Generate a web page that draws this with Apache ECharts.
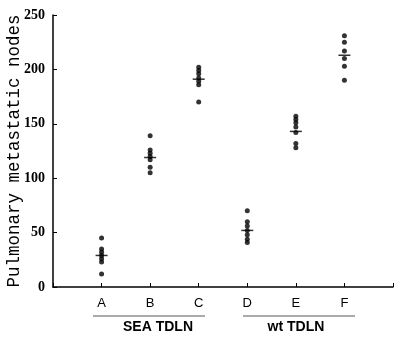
<!DOCTYPE html>
<html><head><meta charset="utf-8">
<script src="https://cdn.jsdelivr.net/npm/echarts@6/dist/echarts.min.js"></script>
<style>html,body{margin:0;padding:0;background:#fff}#c{width:398px;height:344px}</style>
</head><body><div id="c"></div>
<script>
const categories = ['A','B','C','D','E','F'];
const groupA = [45, 35, 32, 29, 26, 23, 12];
const groupB = [139, 126, 123, 120, 117, 110, 105];
const groupC = [202, 199, 196, 192, 189, 186, 170];
const groupD = [70, 60, 56, 52, 48, 44, 41];
const groupE = [157, 154, 151, 147, 142, 132, 128];
const groupF = [231, 225, 217, 210, 203, 190];
const means = [29, 119, 191, 52, 143, 213];
const groupLabels = ['SEA TDLN', 'wt TDLN'];
const yTicks = [0, 50, 100, 150, 200, 250];

const groups = [groupA, groupB, groupC, groupD, groupE, groupF];
const pts = [];
groups.forEach((g, i) => g.forEach(v => pts.push([i + 1, v])));
const meanPts = means.map((v, i) => [i + 1, v]);

const chart = echarts.init(document.getElementById('c'));
chart.setOption({
  animation: false,
  grid: {left: 53, right: 5, top: 15, bottom: 57, containLabel: false, outerBoundsMode: 'none'},
  xAxis: {
    type: 'value', min: 0, max: 7, interval: 1,
    axisLine: {lineStyle: {color: '#000', width: 1.5}},
    axisTick: {inside: true, length: 4, lineStyle: {color: '#000'}},
    splitLine: {show: false},
    axisLabel: {
      margin: 10, color: '#000', fontFamily: 'Liberation Sans', fontSize: 13,
      formatter: v => (v >= 1 && v <= 6) ? categories[v - 1] : ''
    }
  },
  yAxis: {
    type: 'value', min: 0, max: 250, interval: 50,
    name: 'Pulmonary metastatic nodes', nameLocation: 'middle', nameGap: 30, nameMoveOverlap: false,
    nameTextStyle: {fontFamily: 'Liberation Mono', fontSize: 17.5, color: '#000'},
    axisLine: {show: true, lineStyle: {color: '#000', width: 1.5}},
    axisTick: {show: true, inside: true, length: 4, lineStyle: {color: '#000'}},
    splitLine: {show: false},
    axisLabel: {margin: 8, color: '#000', fontFamily: 'Liberation Serif', fontSize: 14, fontWeight: 'bold',
      formatter: v => yTicks.indexOf(v) >= 0 ? String(v) : ''}
  },
  series: [
    {type: 'scatter', data: pts, symbol: 'circle', symbolSize: 5,
     itemStyle: {color: '#000'}},
    {type: 'scatter', data: meanPts, symbol: 'rect', symbolSize: [12, 1.5],
     itemStyle: {color: '#000'}}
  ],
  graphic: [
    {type: 'line', shape: {x1: 93, y1: 316, x2: 205, y2: 316}, style: {stroke: '#555', lineWidth: 1}},
    {type: 'line', shape: {x1: 243, y1: 316, x2: 355, y2: 316}, style: {stroke: '#555', lineWidth: 1}},
    {type: 'text', x: 158, y: 327, style: {text: groupLabels[0], fill: '#000', font: 'bold 14px "Liberation Sans"', textAlign: 'center', textVerticalAlign: 'middle'}},
    {type: 'text', x: 296, y: 327, style: {text: groupLabels[1], fill: '#000', font: 'bold 14px "Liberation Sans"', textAlign: 'center', textVerticalAlign: 'middle'}}
  ]
});
</script></body></html>
